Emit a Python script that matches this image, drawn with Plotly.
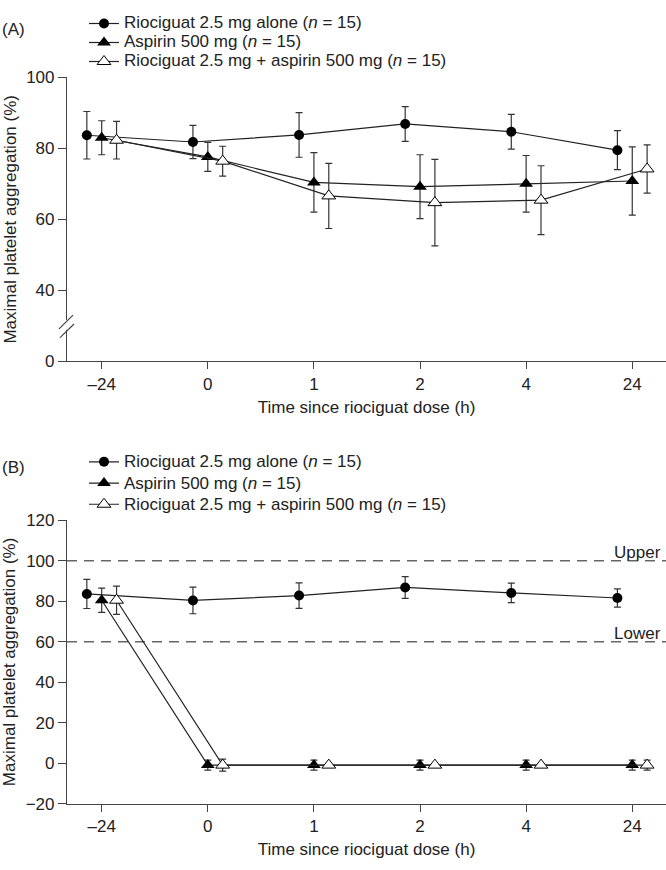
import plotly.graph_objects as go

# ---------------- data ----------------
time_labels = ["–24", "0", "1", "2", "4", "24"]
time_index = [0, 1, 2, 3, 4, 5]

# Panel A
a_rio_mean = [83.7, 81.8, 83.8, 86.9, 84.7, 79.5]
a_rio_sd = [6.7, 4.7, 6.3, 4.9, 4.9, 5.5]
a_asp_mean = [83.0, 77.6, 70.4, 69.2, 70.0, 70.8]
a_asp_sd = [4.8, 4.1, 8.4, 9.0, 8.0, 9.6]
a_combo_mean = [82.3, 76.4, 66.6, 64.7, 65.4, 74.2]
a_combo_sd = [5.3, 4.2, 9.2, 12.2, 9.7, 6.8]

# Panel B
b_rio_mean = [83.6, 80.4, 82.8, 86.8, 84.1, 81.6]
b_rio_sd = [7.2, 6.6, 6.3, 5.4, 4.8, 4.5]
b_asp_mean = [80.5, -1.0, -1.0, -1.0, -1.0, -1.0]
b_asp_sd = [6.0, 2.5, 2.5, 2.5, 2.5, 2.5]
b_combo_mean = [80.5, -1.0, -1.0, -1.0, -1.0, -1.0]
b_combo_sd = [7.0, 3.0, 0.5, 0.5, 0.5, 2.5]

names = ["Riociguat 2.5 mg alone (<i>n</i> = 15)",
         "Aspirin 500 mg (<i>n</i> = 15)",
         "Riociguat 2.5 mg + aspirin 500 mg (<i>n</i> = 15)"]
offsets = [-0.14, 0.0, 0.14]
ref_lines = [100, 60]
ref_labels = ["Upper", "Lower"]

FONT = "Liberation Sans, Arial, Helvetica, sans-serif"
W, H = 666, 870
LINE = "#222222"
ERR = "#333333"

marker_styles = [
    dict(symbol="circle", size=10, color="black", line=dict(color="black", width=0)),
    dict(symbol="triangle-up", size=12, color="black", line=dict(color="black", width=0)),
    dict(symbol="triangle-up", size=12, color="white", line=dict(color="black", width=1)),
]

fig = go.Figure()

def add_panel(means, sds, xa, ya, legend):
    for i, (m, s) in enumerate(zip(means, sds)):
        fig.add_trace(go.Scatter(
            x=[t + offsets[i] for t in time_index], y=m,
            mode="lines+markers",
            name='<span style="font-size:17px">' + names[i] + '</span>',
            line=dict(color=LINE, width=1.2),
            marker=marker_styles[i],
            error_y=dict(type="data", array=s, visible=True, color=ERR, thickness=1.2, width=3.5),
            xaxis=xa, yaxis=ya, legend=legend,
        ))

add_panel([a_rio_mean, a_asp_mean, a_combo_mean], [a_rio_sd, a_asp_sd, a_combo_sd], "x", "y", "legend")
add_panel([b_rio_mean, b_asp_mean, b_combo_mean], [b_rio_sd, b_asp_sd, b_combo_sd], "x2", "y2", "legend2")

def py(px):
    return 1 - px / H

def pxx(px):
    return px / W

x_dom = [pxx(67), 1.0]
x_range = [-0.327, 5.318]
axis_common = dict(showline=True, linecolor="#444444", linewidth=1.2, ticks="outside",
                   tickcolor="#444444", tickwidth=1.2, showgrid=False, zeroline=False,
                   tickfont=dict(size=17, color="#222222"))

fig.update_layout(
    width=W, height=H,
    margin=dict(l=0, r=0, t=0, b=0),
    paper_bgcolor="white", plot_bgcolor="white",
    font=dict(family=FONT, size=17, color="#222222"),
    xaxis=dict(domain=x_dom, range=x_range, tickvals=time_index, ticktext=time_labels,
               ticklen=7, anchor="y",
               title=dict(text="Time since riociguat dose (h)", font=dict(size=17), standoff=8),
               **axis_common),
    yaxis=dict(domain=[py(360), py(70)], range=[20, 100], tickvals=[20, 40, 60, 80, 100],
               ticktext=["0", "40", "60", "80", "100"], ticklen=8, anchor="x",
               title=dict(text="Maximal platelet aggregation (%)", font=dict(size=17), standoff=5),
               **axis_common),
    xaxis2=dict(domain=x_dom, range=x_range, tickvals=time_index, ticktext=time_labels,
                ticklen=7, anchor="y2",
                title=dict(text="Time since riociguat dose (h)", font=dict(size=17), standoff=8),
                **axis_common),
    yaxis2=dict(domain=[py(812.3), py(522.7)], range=[-20, 120], dtick=20, tick0=0,
                ticklen=8, anchor="x2",
                title=dict(text="Maximal platelet aggregation (%)", font=dict(size=17), standoff=5),
                **axis_common),
    legend=dict(x=pxx(84), y=1.0, xanchor="left", yanchor="top", bgcolor="rgba(0,0,0,0)",
                font=dict(size=12), tracegroupgap=0),
    legend2=dict(x=pxx(84), y=py(447), xanchor="left", yanchor="top", bgcolor="rgba(0,0,0,0)",
                 font=dict(size=14), tracegroupgap=0),
    showlegend=True,
)

# axis break marks on panel A y-axis
fig.add_shape(type="rect", xref="paper", yref="paper",
              x0=pxx(63), x1=pxx(71), y0=py(328), y1=py(318),
              fillcolor="white", line=dict(width=0), layer="above")
for (x0, y0, x1, y1) in [(59, 327, 73, 313), (60, 336, 74, 322)]:
    fig.add_shape(type="line", xref="paper", yref="paper",
                  x0=pxx(x0), y0=py(y0), x1=pxx(x1), y1=py(y1),
                  line=dict(color="#444444", width=1.2), layer="above")

# reference lines in panel B
for v, lab in zip(ref_lines, ref_labels):
    fig.add_shape(type="line", xref="x2 domain", yref="y2", x0=0, x1=1, y0=v, y1=v,
                  line=dict(color="#666666", width=1.5, dash="10px,7px"), layer="below")
    fig.add_annotation(text=lab, xref="paper", yref="y2", x=pxx(663), y=v,
                       xanchor="right", yanchor="bottom", showarrow=False,
                       font=dict(size=17, color="#222222"), yshift=-3)

# panel labels
fig.add_annotation(text="(A)", xref="paper", yref="paper", x=pxx(0), y=py(21),
                   xanchor="left", yanchor="middle", showarrow=False, font=dict(size=17))
fig.add_annotation(text="(B)", xref="paper", yref="paper", x=pxx(0), y=py(469),
                   xanchor="left", yanchor="middle", showarrow=False, font=dict(size=17))

fig.write_html("out.html", config={"displayModeBar": False},
               post_script="document.body.style.margin='0px';document.body.style.overflow='hidden';")
